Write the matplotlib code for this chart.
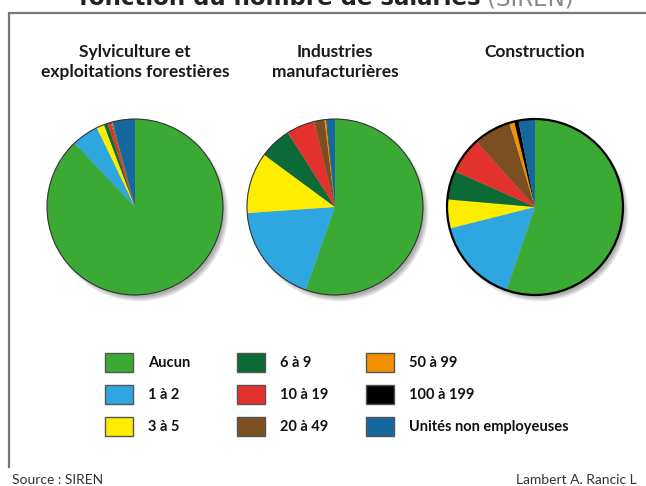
import matplotlib
matplotlib.use("Agg")
from matplotlib import pyplot as plt
from matplotlib.patches import Circle, Rectangle

# share of establishments (%) by number of employees
categories = ["Aucun", "1 à 2", "3 à 5", "6 à 9", "10 à 19", "20 à 49",
              "50 à 99", "100 à 199", "Unités non employeuses"]
colors = ["#3aaa35", "#2ea7e0", "#ffed00", "#0b6a35", "#e3312d", "#7c4f23",
          "#f39200", "#000000", "#16679e"]
sectors = ["Sylviculture et\nexploitations forestières",
           "Industries\nmanufacturières",
           "Construction"]
sylviculture = [88.0, 4.9, 1.4, 0.7, 0.6, 0.2, 0.1, 0.05, 4.1]
industries = [55.4, 18.5, 11.2, 5.9, 5.2, 1.9, 0.3, 0.1, 1.5]
construction = [55.2, 15.8, 5.3, 5.3, 6.7, 6.9, 0.9, 0.8, 3.0]

W, H = 646, 486
fig = plt.figure(figsize=(W / 100, H / 100), dpi=100)
ax = fig.add_axes([0, 0, 1, 1])

def py(y):
    # pixel row from the top -> data y
    return H - y

font = "Lato"

# frame (only left and top visible)
ax.plot([9, 9, W + 5], [py(467), py(13), py(13)], color="#777777", lw=1.6,
        solid_joinstyle="miter")

# title line, cut by the top edge as in the original
fig.text(481 / W, 1 - 5 / H, "fonction du nombre de salariés", ha="right",
         va="baseline", fontsize=16.5, fontweight="bold", color="#222222",
         family="DejaVu Sans")
fig.text(487 / W, 1 - 5 / H, "(SIREN)", ha="left", va="baseline",
         fontsize=16.5, color="#888888", family="DejaVu Sans")

centers = [135, 335, 535]
values = [sylviculture, industries, construction]
edges = [(0.8, "#333333"), (0.8, "#333333"), (1.6, "#000000")]
R = 88
cy = 207
for cx, vals, name, (elw, ec) in zip(centers, values, sectors, edges):
    # soft drop shadow
    for k in range(7):
        ax.add_patch(Circle((cx + 4, py(cy) - 5), R + 1.5 - k * 0.8,
                            color="black", alpha=0.05, lw=0))
    ax.pie(vals, colors=colors, startangle=90, counterclock=False,
           center=(cx, py(cy)), radius=R, frame=True,
           wedgeprops=dict(linewidth=0))
    ax.add_patch(Circle((cx, py(cy)), R, fill=False, lw=elw, ec=ec))
    ax.text(cx, py(44), name, ha="center", va="top", fontsize=12.5,
            fontweight="bold", color="#1a1a1a", family=font,
            linespacing=1.3)

# legend
col_x = [105, 237, 366]
row_y = [363, 395, 427]
for i, (lab, col) in enumerate(zip(categories, colors)):
    x0 = col_x[i // 3]
    y0 = row_y[i % 3]
    ax.add_patch(Rectangle((x0, py(y0) - 9.5), 28, 19, fc=col,
                           ec="#555555", lw=1))
    ax.text(x0 + 43, py(y0), lab, ha="left", va="center", fontsize=10.5,
            fontweight="bold", color="#111111", family=font)

ax.text(12, py(484), "Source : SIREN", ha="left", va="baseline",
        fontsize=10, color="#333333", family=font)
ax.text(516, py(484), "Lambert A. Rancic L", ha="left", va="baseline",
        fontsize=10, color="#333333", family=font)

ax.set_xlim(0, W)
ax.set_ylim(0, H)
ax.set_aspect("equal")
ax.axis("off")
fig.savefig("out.png", dpi=100)
